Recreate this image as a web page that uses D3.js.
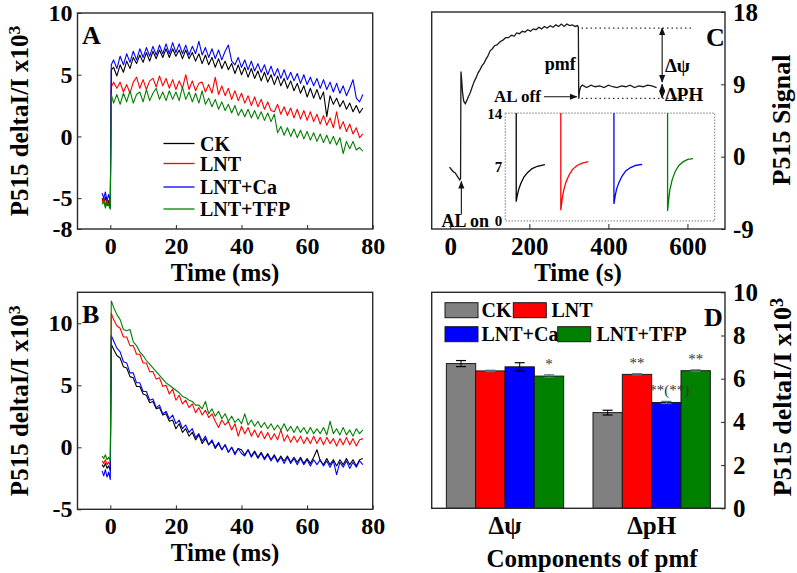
<!DOCTYPE html>
<html lang="en">
<head>
<meta charset="UTF-8">
<title>P515 signal</title>
<script src="https://d3js.org/d3.v7.min.js"></script>
<style>
  body { margin: 0; background: #fff; }
  svg { display: block; font-family: "Liberation Serif", "Times New Roman", serif; font-weight: bold; }
</style>
</head>
<body>
<svg id="fig" width="797" height="573"></svg>
<script>
// ---- data -------------------------------------------------------------
const seriesNames = ["CK", "LNT", "LNT+Ca", "LNT+TFP"];

// sample times (ms) shared by panels A and B
const timeMs = [-2.5, -2, -1.5, -1, -0.5, 0, 0.3,
  1, 2, 3, 4, 5, 6, 7, 8, 9, 10, 11, 12, 13, 14, 15, 16, 17, 18, 19, 20,
  21, 22, 23, 24, 25, 26, 27, 28, 29, 30, 31, 32, 33, 34, 35, 36, 37, 38, 39, 40,
  41, 42, 43, 44, 45, 46, 47, 48, 49, 50, 51, 52, 53, 54, 55, 56, 57, 58, 59, 60,
  61, 62, 63, 64, 65, 66, 67, 68, 69, 70, 71, 72, 73, 74, 75, 76, 77];

// panel A
const aCK = [-5.0, -5.4, -4.9, -5.6, -5.2, -5.8, 5.4,
  5.6, 4.9, 5.8, 5.2, 6.1, 5.5, 6.4, 5.9, 6.6, 6.0, 6.8, 6.1, 6.9, 6.3, 7.0, 6.4, 7.1, 6.4, 7.1, 6.5,
  7.0, 6.3, 7.0, 6.3, 6.8, 6.1, 6.7, 5.9, 6.6, 5.8, 6.4, 5.6, 6.3, 5.5, 6.1, 5.4, 5.9, 5.1, 5.8, 5.0,
  5.6, 4.8, 5.5, 4.7, 5.3, 4.5, 5.2, 4.4, 5.0, 4.2, 4.9, 4.1, 4.7, 3.9, 4.5, 3.7, 4.3, 3.5, 4.1, 3.2,
  3.9, 3.1, 3.8, 3.0, 3.6, 1.6, 3.3, 2.6, 3.1, 2.4, 2.9, 2.2, 2.7, 2.0, 2.5, 1.9, 2.3];
const aLNT = [-5.3, -5.0, -5.6, -5.1, -5.5, -5.4, 4.0,
  4.4, 3.9, 4.4, 3.6, 4.2, 3.5, 4.4, 4.8, 3.9, 4.6, 3.8, 4.5, 4.7, 4.0, 4.9, 4.1, 4.7, 3.9, 4.6, 3.8,
  4.5, 3.9, 5.0, 3.8, 4.5, 3.7, 4.3, 4.4, 3.6, 4.2, 3.5, 4.8, 3.4, 4.1, 3.3, 3.9, 3.0, 3.7, 2.9, 3.5,
  2.7, 3.3, 2.5, 3.2, 2.4, 3.0, 2.2, 2.8, 2.1, 2.0, 2.6, 1.8, 2.4, 1.7, 2.3, 1.5, 2.2, 1.4, 2.1, 1.3,
  2.0, 1.2, 1.8, 1.0, 1.7, 0.9, 1.5, 0.7, 2.0, 0.6, 1.2, 0.4, 1.0, 0.2, 0.7, -0.1, 0.2];
const aCa = [-4.6, -5.0, -4.5, -5.2, -4.7, -5.3, 5.8,
  6.2, 5.5, 6.5, 5.8, 6.7, 6.0, 6.9, 6.2, 7.1, 6.4, 7.2, 6.5, 7.3, 6.6, 7.4, 6.7, 7.5, 6.7, 7.6, 6.8,
  7.5, 6.7, 7.4, 6.6, 7.3, 6.7, 7.7, 6.6, 7.2, 6.4, 7.1, 6.3, 7.0, 6.2, 6.9, 7.4, 6.1, 5.8, 6.4, 5.6,
  6.2, 5.4, 6.1, 5.3, 5.9, 5.2, 5.8, 5.0, 5.7, 4.9, 5.5, 4.7, 5.4, 4.6, 5.2, 4.5, 5.1, 4.3, 5.0, 4.2,
  4.8, 4.1, 4.7, 3.9, 4.6, 3.8, 4.4, 3.6, 4.3, 3.5, 4.1, 3.3, 3.9, 4.6, 3.1, 2.8, 3.4];
const aTFP = [-5.5, -5.2, -5.8, -5.3, -5.6, -5.9, 3.4,
  2.7, 3.4, 2.6, 3.5, 2.8, 3.7, 2.7, 3.4, 3.6, 2.8, 3.8, 2.9, 3.5, 3.9, 3.0, 3.6, 2.9, 3.7, 3.0, 3.6,
  2.9, 4.0, 3.0, 3.6, 2.8, 3.5, 2.7, 3.7, 2.6, 3.1, 2.4, 3.0, 2.2, 2.8, 2.1, 2.6, 1.9, 2.5, 1.7, 2.2,
  1.6, 2.2, 1.5, 2.1, 1.4, 2.0, 1.3, 1.9, 1.2, 1.8, 0.3, 0.8, 0.1, 0.7, 0.0, 0.6, -0.1, 0.5, -0.2, 0.4,
  -0.3, 0.3, -0.4, 0.2, -0.5, 0.1, -0.6, 0.0, -0.7, -0.1, -1.4, -0.4, -1.0, -0.4, -1.1, -0.9, -1.2];

// panel B
const bCK = [-1.4, -1.6, -1.3, -1.7, -1.5, -1.9, 8.3,
  7.9, 7.4, 7.2, 6.5, 6.4, 5.7, 5.6, 4.9, 4.9, 4.3, 4.2, 3.6, 3.7, 3.1, 3.2, 2.6, 2.7, 2.1, 2.2, 1.5,
  1.9, 1.2, 1.5, 0.9, 1.2, 0.6, 1.0, 0.3, 0.7, 0.2, 0.5, -0.1, 0.3, -0.2, 0.2, -0.4, 0.0, -0.5, -0.1, -0.2,
  -0.6, -0.2, -0.7, -0.3, -0.8, -0.4, -0.9, -0.5, -1.0, -0.6, -1.1, -0.7, -1.1, -0.7, -1.2, -0.8, -1.2, -0.8, -1.3, -0.9,
  -1.3, -0.8, -0.2, -1.1, -1.4, -0.9, -1.4, -1.0, -1.5, -1.0, -1.4, -0.9, -1.4, -1.0, -1.5, -1.0, -0.9];
const bLNT = [-1.1, -1.3, -1.0, -1.4, -1.2, -1.5, 10.8,
  10.3, 9.8, 9.6, 8.9, 8.9, 8.2, 8.2, 7.5, 7.5, 6.8, 6.8, 6.1, 6.1, 5.5, 5.6, 4.9, 5.0, 4.3, 4.7, 3.8,
  4.2, 3.5, 3.8, 3.2, 3.5, 2.8, 3.2, 2.6, 3.0, 2.4, 2.7, 2.1, 1.6, 2.2, 1.8, 2.1, 1.4, 1.9, 0.9, 1.7,
  1.1, 1.6, 0.9, 1.4, 0.8, 1.3, 0.7, 1.2, 0.6, 1.1, 0.6, 1.4, 0.5, 1.0, 0.4, 0.9, 0.4, 0.9, 0.3, 0.8,
  0.3, 0.9, 0.3, 0.8, 0.2, 0.8, 0.3, 0.7, 0.1, 0.7, 0.2, 0.8, 0.2, 0.7, 0.1, 0.6, 0.7];
const bCa = [-1.9, -2.3, -1.8, -2.4, -2.0, -2.6, 9.0,
  8.6, 8.0, 7.7, 6.9, 6.8, 6.0, 6.0, 5.2, 5.2, 4.5, 4.5, 3.8, 3.9, 3.2, 3.4, 2.7, 2.9, 2.3, 2.6, 1.9,
  2.2, 1.5, 1.8, 1.2, 1.5, 0.8, 1.1, 0.5, 0.9, 0.2, 0.6, 0.0, 0.4, -0.2, 0.2, -0.4, 0.0, -0.6, -0.1, -0.5,
  -0.7, -0.2, -0.8, -0.4, -0.9, -0.5, -1.0, -0.6, -1.1, -0.7, -1.2, -0.8, -1.3, -0.8, -1.3, -0.9, -1.4, -0.9, -1.4, -1.0,
  -1.5, -1.0, -1.4, -1.0, -1.5, -1.1, -1.6, -1.1, -2.2, -1.2, -1.6, -1.1, -1.7, -1.2, -1.6, -1.1, -1.4];
const bTFP = [-0.7, -0.9, -0.6, -1.0, -0.8, -1.1, 11.8,
  11.3, 10.7, 10.3, 9.5, 9.4, 9.5, 8.5, 8.2, 7.7, 7.4, 7.0, 6.7, 6.4, 6.1, 5.8, 5.5, 5.2, 5.0, 4.8, 4.6,
  4.4, 4.1, 4.0, 3.8, 3.7, 3.4, 3.4, 3.1, 3.7, 2.7, 3.1, 2.5, 2.9, 2.3, 2.7, 2.1, 2.5, 2.0, 2.3, 1.9,
  2.7, 1.8, 2.2, 1.7, 2.1, 1.6, 2.0, 1.5, 1.9, 1.4, 1.8, 1.4, 1.9, 1.3, 1.7, 1.2, 1.7, 1.2, 1.6, 1.1,
  1.6, 1.1, 1.5, 1.1, 1.6, 1.0, 2.1, 1.1, 1.5, 1.0, 1.6, 1.0, 1.4, 0.9, 1.5, 1.1, 1.4];

// panel C main trace: time (s), signal
const cTime = [-2, 3, 8, 12, 16, 20, 24, 26, 27, 29, 31, 34, 38, 42, 46, 50, 55, 60, 65, 70, 75, 80, 85, 90,
  95, 101, 106, 112, 118, 126, 133, 140, 147, 155, 162, 168, 175, 182, 189, 196, 203, 210, 217, 224,
  231, 238, 245, 253, 260, 267, 274, 281, 288, 295, 302, 309, 316, 322, 324, 325, 327, 330, 334,
  345, 356, 367, 378, 389, 400, 411, 422, 433, 444, 455, 466, 477, 488, 499, 510, 522];
const cSignal = [-1.3, -1.6, -1.9, -2.0, -2.3, -2.6, -2.9, -2.7, 10.6, 9.5, 8.0, 6.9, 6.6, 7.0, 7.5, 7.9, 8.6, 9.3, 9.8, 10.4, 10.8, 11.3, 11.6, 12.1,
  12.5, 13.2, 13.4, 13.8, 13.9, 14.3, 14.5, 14.8, 14.8, 15.1, 15.0, 15.4, 15.3, 15.6, 15.5, 15.8, 15.6, 15.9, 15.8, 16.1,
  15.9, 16.2, 16.0, 16.3, 16.1, 16.4, 16.2, 16.5, 16.2, 16.5, 16.3, 16.4, 16.2, 16.3, 16.1, 7.2, 8.2, 8.7, 8.9,
  8.6, 8.9, 8.7, 8.8, 8.6, 8.9, 8.7, 8.6, 8.8, 8.7, 8.9, 8.6, 8.8, 8.7, 8.9, 8.8, 8.6];

// panel C inset traces: relative time, signal
const insetTime = {
  "CK":      [14.7, 14.7, 16, 18, 21, 25, 30, 36, 43, 53],
  "LNT":     [74.3, 74.3, 76, 78, 81, 85, 90, 96, 103, 111],
  "LNT+Ca":  [145.3, 145.3, 147, 149, 152, 156, 161, 167, 174, 183],
  "LNT+TFP": [217, 217, 218.5, 220, 223, 227, 232, 238, 244, 251]
};
const insetSignal = {
  "CK":      [14, 2.5, 3.3, 4.1, 4.9, 5.7, 6.3, 6.8, 7.1, 7.3],
  "LNT":     [14, 1.4, 2.8, 3.9, 5.0, 5.9, 6.7, 7.2, 7.5, 7.7],
  "LNT+Ca":  [14, 2.2, 3.3, 4.2, 5.0, 5.8, 6.5, 6.9, 7.2, 7.35],
  "LNT+TFP": [14, 1.3, 2.8, 4.0, 5.3, 6.4, 7.2, 7.7, 8.0, 8.1]
};

// panel D bars
const components = ["\u0394\u03c8", "\u0394pH"];
const dMeans = {
  "\u0394\u03c8": [6.70, 6.36, 6.55, 6.12],
  "\u0394pH":     [4.43, 6.20, 4.90, 6.37]
};
const dErrors = {
  "\u0394\u03c8": [0.14, 0.03, 0.19, 0.06],
  "\u0394pH":     [0.11, 0.03, 0.05, 0.04]
};
const dStars = {
  "\u0394\u03c8": ["", "", "", "*"],
  "\u0394pH":     ["", "**", "**(**)", "**"]
};

// tick labels
const abTicksA = [10, 5, 0, -5, -7.5];
const abLabelsA = ["10", "5", "0", "-5", "-8"];
const abTicksB = [10, 5, 0, -5];
const timeTicks = [0, 20, 40, 60, 80];
const cTicks = [18, 9, 0, -9];
const cTimeTicks = [0, 200, 400, 600];
const insetTicks = [0, 7, 14];
const dTicks = [0, 2, 4, 6, 8, 10];

// ---- drawing ----------------------------------------------------------
const colors = ["#000000", "#ff0000", "#0000ff", "#008000"];
const barColors = ["#808080", "#ff0000", "#0000ff", "#008000"];
const svg = d3.select("#fig");
svg.append("rect").attr("width", 797).attr("height", 573).attr("fill", "#fff");

function frame(x0, x1, y0, y1) {
  svg.append("rect").attr("x", x0).attr("y", y0).attr("width", x1 - x0).attr("height", y1 - y0)
    .attr("fill", "none").attr("stroke", "#2a2a2a").attr("stroke-width", 1.4);
}
function styleAxis(g, size) {
  g.select(".domain").remove();
  g.selectAll(".tick line").attr("stroke", "#2a2a2a");
  g.selectAll("text").attr("font-family", "Liberation Serif, serif").attr("font-weight", "bold")
    .attr("font-size", size).attr("fill", "#000");
}
function yTitle(x, y, size, withPower) {
  const t = svg.append("text").attr("transform", `translate(${x},${y}) rotate(-90)`)
    .attr("text-anchor", "middle").attr("dy", "0.35em").attr("font-size", size);
  if (withPower) {
    t.append("tspan").text("P515 deltaI/I x10");
    t.append("tspan").attr("dy", "-0.45em").attr("font-size", size * 0.7).text("3");
  } else {
    t.text("P515 Signal");
  }
}
function label(x, y, txt, size, anchor) {
  return svg.append("text").attr("x", x).attr("y", y).attr("font-size", size)
    .attr("text-anchor", anchor || "start").attr("dy", "0.35em").text(txt);
}

// panels A and B
function tracePanel(id, top, bottom, yDomain, yTicks, yLabels, series) {
  const x = d3.scaleLinear().domain([-10, 80]).range([77.5, 372.7]);
  const y = d3.scaleLinear().domain(yDomain).range([bottom, top]);
  svg.append("clipPath").attr("id", "clip" + id).append("rect")
    .attr("x", 77.5).attr("y", top).attr("width", 372.7 - 77.5).attr("height", bottom - top);
  const line = d3.line().x((d, i) => x(timeMs[i])).y(d => y(d));
  const g = svg.append("g").attr("clip-path", `url(#clip${id})`);
  series.forEach((s, k) => {
    g.append("path").datum(s).attr("d", line).attr("fill", "none")
      .attr("stroke", colors[k]).attr("stroke-width", 1.1).attr("stroke-linejoin", "round");
  });
  const ya = svg.append("g").attr("transform", "translate(77.5,0)")
    .call(d3.axisLeft(y).tickValues(yTicks).tickSize(-4).tickPadding(5)
      .tickFormat((d, i) => yLabels[i]));
  styleAxis(ya, 24);
  const xa = svg.append("g").attr("transform", `translate(0,${bottom})`)
    .call(d3.axisBottom(x).tickValues(timeTicks).tickSize(-4).tickPadding(8).tickFormat(d => String(d)));
  styleAxis(xa, 24);
  frame(77.5, 372.7, top, bottom);
  svg.append("text").attr("x", 225).attr("y", bottom + 43).attr("text-anchor", "middle")
    .attr("dy", "0.35em").attr("font-size", 25).text("Time (ms)");
  yTitle(19, (top + bottom) / 2, 25, true);
  label(82, top + 22, id, 26);
}
tracePanel("A", 13, 229, [-7.5, 10], abTicksA, abLabelsA, [aCK, aLNT, aCa, aTFP]);
tracePanel("B", 292.3, 509.3, [-5, 12.5], abTicksB, abTicksB.map(String), [bCK, bLNT, bCa, bTFP]);

// legend of A
seriesNames.forEach((n, k) => {
  const yy = [143.5, 163.5, 187, 209][k];
  svg.append("line").attr("x1", 163.5).attr("x2", 194.5).attr("y1", yy).attr("y2", yy)
    .attr("stroke", colors[k]).attr("stroke-width", 1.3);
  label(200, yy, n, 20);
});

// panel C
const xC = d3.scaleLinear().domain([-47, 695]).range([431.7, 725]);
const yC = d3.scaleLinear().domain([-9, 18]).range([229, 12]);
svg.append("path").datum(cTime).attr("fill", "none").attr("stroke", "#1a1a1a").attr("stroke-width", 1.3)
  .attr("d", d3.line().x(d => xC(d)).y((d, i) => yC(cSignal[i])));
const dots = [[332, 614, 16.0], [332, 614, 7.25]];
dots.forEach(d => svg.append("line").attr("x1", xC(d[0])).attr("x2", xC(d[1]))
  .attr("y1", yC(d[2])).attr("y2", yC(d[2])).attr("stroke", "#333").attr("stroke-width", 1.2)
  .attr("stroke-dasharray", "1.5,3"));
svg.append("defs").append("marker").attr("id", "arr").attr("viewBox", "0 0 10 10")
  .attr("refX", 9).attr("refY", 5).attr("markerWidth", 7).attr("markerHeight", 7)
  .attr("orient", "auto-start-reverse")
  .append("path").attr("d", "M0,1 L10,5 L0,9 z").attr("fill", "#111");
function arrow(t1, v1, t2, v2, both) {
  const l = svg.append("line").attr("x1", xC(t1)).attr("y1", yC(v1)).attr("x2", xC(t2)).attr("y2", yC(v2))
    .attr("stroke", "#111").attr("stroke-width", 1.1).attr("marker-end", "url(#arr)");
  if (both) l.attr("marker-start", "url(#arr)");
}
arrow(536, 9.3, 536, 16.0, true);
arrow(536, 7.3, 536, 9.0, true);
arrow(237, 7.45, 320, 7.45, false);
arrow(28, -7.2, 28, -3.1, false);
label(xC(543), yC(11.4), "\u0394\u03c8", 19);
label(xC(543), yC(7.8), "\u0394PH", 19);
label(xC(278), yC(11.6), "pmf", 18, "middle");
label(xC(229), yC(7.6), "AL off", 17, "end");
label(xC(38), yC(-8.0), "AL on", 18, "middle");

// inset
const xI = d3.scaleLinear().domain([0, 280]).range([xC(139), xC(669)]);
const yI = d3.scaleLinear().domain([0, 14]).range([yC(-8.0), yC(5.42)]);
svg.append("rect").attr("x", xI(0)).attr("y", yI(14)).attr("width", xI(280) - xI(0))
  .attr("height", yI(0) - yI(14)).attr("fill", "none").attr("stroke", "#777")
  .attr("stroke-width", 1).attr("stroke-dasharray", "1.5,1.5");
seriesNames.forEach((n, k) => {
  svg.append("path").datum(insetTime[n]).attr("fill", "none").attr("stroke", colors[k])
    .attr("stroke-width", 1.3)
    .attr("d", d3.line().x(d => xI(d)).y((d, i) => yI(insetSignal[n][i])));
});
insetTicks.forEach(t => label(xI(0) - 3, yI(t) + (t === 14 ? 1 : 0), String(t), 15, "end"));

const ca = svg.append("g").attr("transform", "translate(725,0)")
  .call(d3.axisRight(yC).tickValues(cTicks).tickSize(-4).tickPadding(8).tickFormat(d => String(d)));
styleAxis(ca, 25);
const cb = svg.append("g").attr("transform", "translate(0,229)")
  .call(d3.axisBottom(xC).tickValues(cTimeTicks).tickSize(-5).tickPadding(8).tickFormat(d => String(d)));
styleAxis(cb, 25);
frame(431.7, 725, 12, 229);
svg.append("text").attr("x", 578).attr("y", 272).attr("text-anchor", "middle")
  .attr("dy", "0.35em").attr("font-size", 25).text("Time (s)");
yTitle(781, 120, 26, false);
label(706, 37, "C", 26);

// panel D
const yD = d3.scaleLinear().domain([0, 10]).range([508.3, 292.3]);
const xD = d3.scaleBand().domain(components).range([431.7, 725]).paddingInner(0.2).paddingOuter(0.1);
const xS = d3.scaleBand().domain(seriesNames).range([0, xD.bandwidth()]);
const bars = [];
components.forEach(c => seriesNames.forEach((n, k) => bars.push({
  c, n, k, v: dMeans[c][k], e: dErrors[c][k], star: dStars[c][k]
})));
svg.selectAll("rect.bar").data(bars).enter().append("rect").attr("class", "bar")
  .attr("x", d => xD(d.c) + xS(d.n)).attr("width", xS.bandwidth())
  .attr("y", d => yD(d.v)).attr("height", d => yD(0) - yD(d.v))
  .attr("fill", d => barColors[d.k]).attr("stroke", "#1a1a1a").attr("stroke-width", 1);
bars.forEach(d => {
  const cx = xD(d.c) + xS(d.n) + xS.bandwidth() / 2;
  const col = d.e > 0.08 ? "#000" : "#3f7f86";
  const y1 = yD(d.v + d.e), y2 = yD(d.v - d.e);
  svg.append("line").attr("x1", cx).attr("x2", cx).attr("y1", y1).attr("y2", y2).attr("stroke", col);
  [y1, y2].forEach(yy => svg.append("line").attr("x1", cx - 5).attr("x2", cx + 5)
    .attr("y1", yy).attr("y2", yy).attr("stroke", col).attr("stroke-width", 1.2));
  if (d.star) {
    svg.append("text").attr("x", d.star.length > 2 ? cx + 3 : cx).attr("y", y1 - 6)
      .attr("text-anchor", "middle").attr("font-size", 15).attr("font-weight", "normal")
      .attr("fill", "#333").text(d.star);
  }
});
const da = svg.append("g").attr("transform", "translate(725,0)")
  .call(d3.axisRight(yD).tickValues(dTicks).tickSize(-4).tickPadding(8).tickFormat(d => String(d)));
styleAxis(da, 25);
const db = svg.append("g").attr("transform", "translate(0,508.3)")
  .call(d3.axisBottom(xD).tickSize(0).tickPadding(8));
styleAxis(db, 25);
frame(431.7, 725, 292.3, 508.3);
svg.append("text").attr("x", 592).attr("y", 558).attr("text-anchor", "middle")
  .attr("dy", "0.35em").attr("font-size", 25).text("Components of pmf");
yTitle(782, 397, 26, true);
label(704, 317, "D", 26);

// legend of D
const legD = [[445, 302.7], [513.3, 302.7], [445, 326.7], [557.7, 326.7]];
const legText = [481.5, 551.5, 481.5, 596.5];
seriesNames.forEach((n, k) => {
  svg.append("rect").attr("x", legD[k][0]).attr("y", legD[k][1]).attr("width", 33).attr("height", 15)
    .attr("fill", barColors[k]).attr("stroke", "#1a1a1a");
  label(legText[k], legD[k][1] + 7.5, n, 20);
});
</script>
</body>
</html>
